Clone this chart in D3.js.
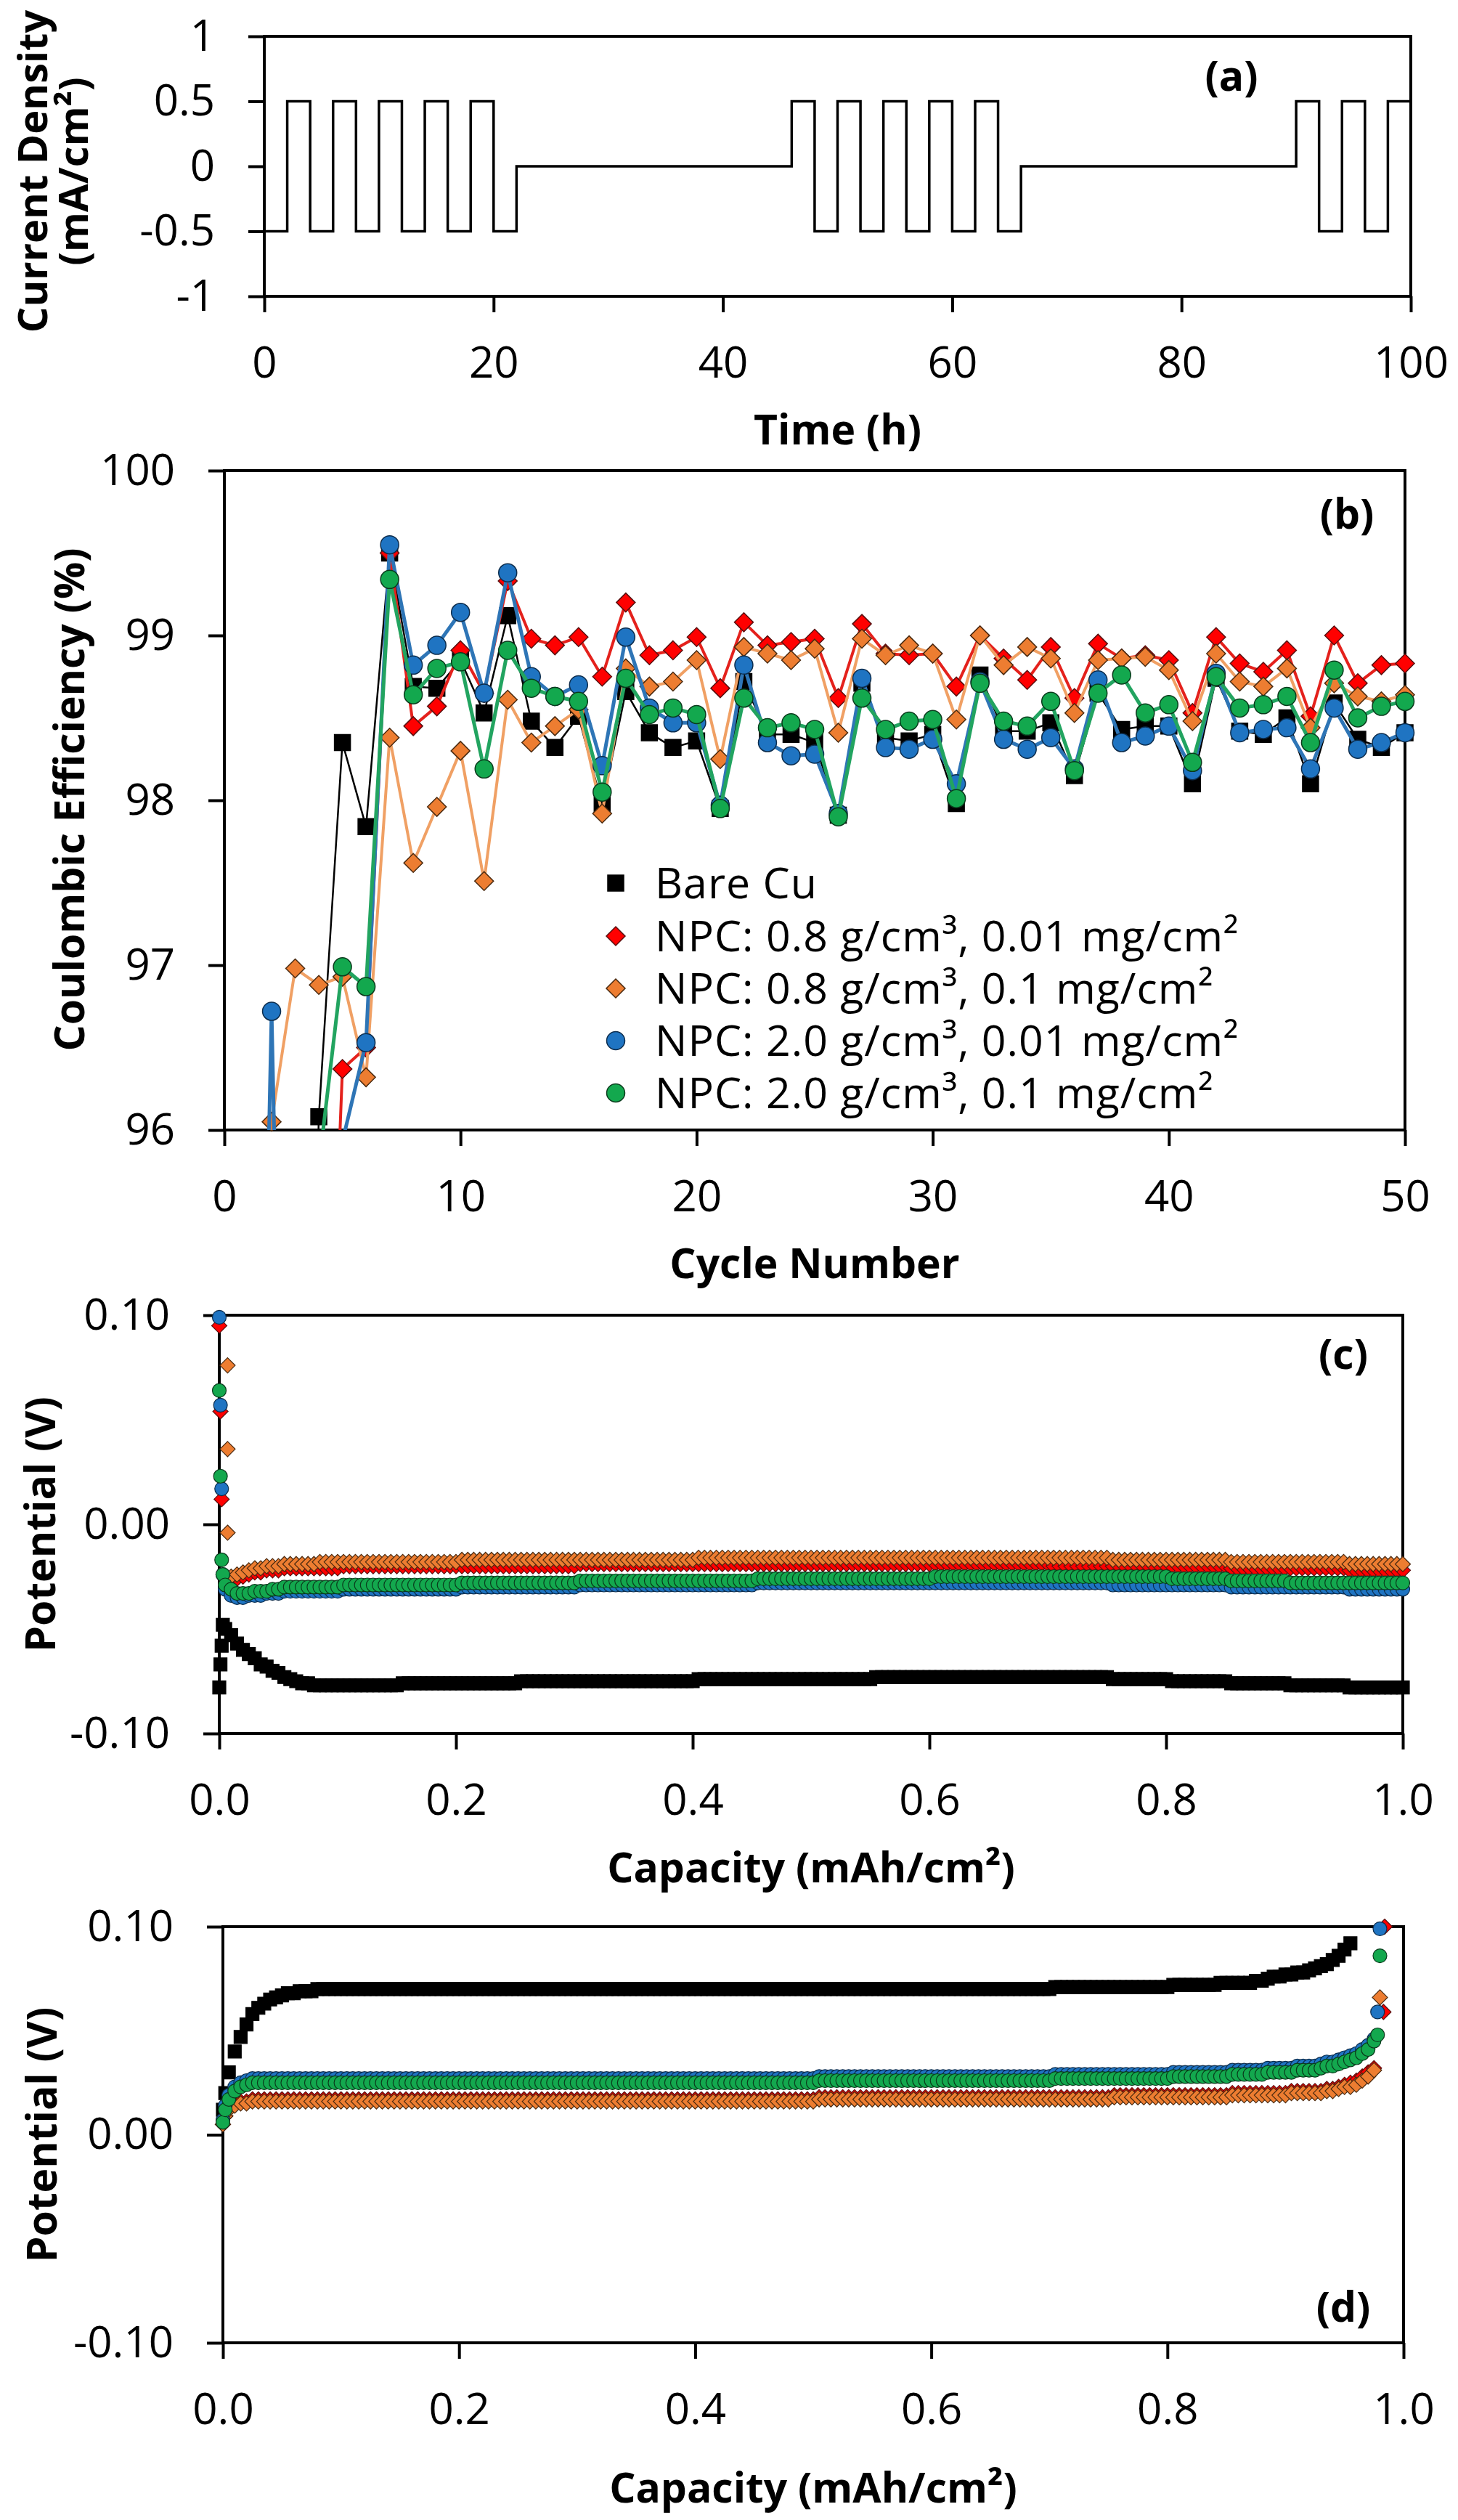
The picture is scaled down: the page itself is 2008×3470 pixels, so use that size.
<!DOCTYPE html>
<html>
<head>
<meta charset="utf-8">
<script src="https://cdn.jsdelivr.net/npm/d3@7"></script>
<style>
  body { margin: 0; background: #fff; }
  svg { display: block; }
</style>
</head>
<body>
<script>
var
  FONT = '"Open Sans", "DejaVu Sans", sans-serif',

  // (a) current profile: start time of each step (h) and the level held from it (mA/cm2)
  stepTimes = [0, 2, 4, 6, 8, 10, 12, 14, 16, 18, 20, 22,
    46, 48, 50, 52, 54, 56, 58, 60, 62, 64, 66,
    90, 92, 94, 96, 98, 100],
  stepLevels = [-0.5, 0.5, -0.5, 0.5, -0.5, 0.5, -0.5, 0.5, -0.5, 0.5, -0.5, 0,
    0.5, -0.5, 0.5, -0.5, 0.5, -0.5, 0.5, -0.5, 0.5, -0.5, 0,
    0.5, -0.5, 0.5, -0.5, 0.5, 0.5],
  timeTicks = [0, 20, 40, 60, 80, 100],
  currentTicks = [-1, -0.5, 0, 0.5, 1],

  // (b) coulombic efficiency (%) per cycle, null = not recorded
  cycles = [1, 2, 3, 4, 5, 6, 7, 8, 9, 10, 11, 12, 13, 14, 15, 16, 17, 18, 19, 20,
    21, 22, 23, 24, 25, 26, 27, 28, 29, 30, 31, 32, 33, 34, 35, 36, 37, 38, 39, 40,
    41, 42, 43, 44, 45, 46, 47, 48, 49, 50],
  ceBareCu = [null, null, 90, 96.08, 98.35, 97.84, 99.5, 98.69, 98.68, 98.85,
    98.53, 99.12, 98.48, 98.32, 98.51, 97.97, 98.66, 98.41, 98.32, 98.36,
    97.95, 98.72, 98.40, 98.40, 98.35, 97.91, 98.71, 98.38, 98.36, 98.40,
    97.98, 98.76, 98.42, 98.42, 98.47, 98.15, 98.65, 98.43, 98.45, 98.45,
    98.10, 98.74, 98.42, 98.40, 98.50, 98.10, 98.59, 98.37, 98.32, 98.41],
  ceNpc08a = [null, null, null, 92.7, 96.37, 96.5, 99.5, 98.45, 98.57, 98.91,
    98.65, 99.33, 98.98, 98.94, 98.99, 98.75, 99.20, 98.88, 98.91, 98.99,
    98.68, 99.08, 98.94, 98.96, 98.98, 98.62, 99.07, 98.89, 98.88, 98.89,
    98.69, 99.00, 98.86, 98.73, 98.93, 98.62, 98.95, 98.86, 98.88, 98.85,
    98.53, 98.99, 98.83, 98.78, 98.91, 98.51, 99.00, 98.71, 98.82, 98.83],
  ceNpc08b = [90, 96.05, 96.98, 96.88, 96.93, 96.32, 98.38, 97.62, 97.96, 98.30,
    97.51, 98.61, 98.35, 98.45, 98.55, 97.92, 98.80, 98.69, 98.72, 98.85,
    98.25, 98.93, 98.89, 98.85, 98.92, 98.41, 98.98, 98.88, 98.94, 98.89,
    98.49, 99.00, 98.82, 98.93, 98.86, 98.53, 98.85, 98.86, 98.87, 98.79,
    98.48, 98.89, 98.72, 98.69, 98.80, 98.44, 98.71, 98.63, 98.60, 98.64],
  ceNpc20a = [90, 96.72, 90, 90, 95.93, 96.53, 99.55, 98.82, 98.94, 99.14,
    98.65, 99.38, 98.75, 98.63, 98.70, 98.21, 98.99, 98.56, 98.47, 98.47,
    97.97, 98.82, 98.35, 98.27, 98.28, 97.92, 98.74, 98.32, 98.31, 98.37,
    98.10, 98.72, 98.37, 98.31, 98.38, 98.19, 98.73, 98.35, 98.39, 98.45,
    98.18, 98.77, 98.41, 98.43, 98.44, 98.19, 98.56, 98.31, 98.35, 98.41],
  ceNpc20b = [null, null, null, 95.78, 96.99, 96.87, 99.34, 98.64, 98.80, 98.84,
    98.19, 98.91, 98.68, 98.63, 98.60, 98.05, 98.74, 98.52, 98.56, 98.52,
    97.95, 98.62, 98.44, 98.47, 98.43, 97.90, 98.62, 98.43, 98.48, 98.49,
    98.01, 98.71, 98.48, 98.45, 98.60, 98.18, 98.65, 98.76, 98.53, 98.58,
    98.23, 98.75, 98.56, 98.58, 98.63, 98.35, 98.79, 98.50, 98.57, 98.60],
  cycleTicks = [0, 10, 20, 30, 40, 50],
  ceTicks = [96, 97, 98, 99, 100],

  seriesNames = ['Bare Cu',
    'NPC: 0.8 g/cm\u00b3, 0.01 mg/cm\u00b2',
    'NPC: 0.8 g/cm\u00b3, 0.1 mg/cm\u00b2',
    'NPC: 2.0 g/cm\u00b3, 0.01 mg/cm\u00b2',
    'NPC: 2.0 g/cm\u00b3, 0.1 mg/cm\u00b2'],

  // (c), (d) voltage profiles: capacity grid (mAh/cm2) shared by the regular samples
  capGrid = [0.005, 0.01, 0.015, 0.02, 0.025, 0.03, 0.035, 0.04, 0.045, 0.05,
    0.055, 0.06, 0.065, 0.07, 0.075, 0.08, 0.085, 0.09, 0.095, 0.1,
    0.105, 0.11, 0.115, 0.12, 0.125, 0.13, 0.135, 0.14, 0.145, 0.15,
    0.155, 0.16, 0.165, 0.17, 0.175, 0.18, 0.185, 0.19, 0.195, 0.2,
    0.205, 0.21, 0.215, 0.22, 0.225, 0.23, 0.235, 0.24, 0.245, 0.25,
    0.255, 0.26, 0.265, 0.27, 0.275, 0.28, 0.285, 0.29, 0.295, 0.3,
    0.305, 0.31, 0.315, 0.32, 0.325, 0.33, 0.335, 0.34, 0.345, 0.35,
    0.355, 0.36, 0.365, 0.37, 0.375, 0.38, 0.385, 0.39, 0.395, 0.4,
    0.405, 0.41, 0.415, 0.42, 0.425, 0.43, 0.435, 0.44, 0.445, 0.45,
    0.455, 0.46, 0.465, 0.47, 0.475, 0.48, 0.485, 0.49, 0.495, 0.5,
    0.505, 0.51, 0.515, 0.52, 0.525, 0.53, 0.535, 0.54, 0.545, 0.55,
    0.555, 0.56, 0.565, 0.57, 0.575, 0.58, 0.585, 0.59, 0.595, 0.6,
    0.605, 0.61, 0.615, 0.62, 0.625, 0.63, 0.635, 0.64, 0.645, 0.65,
    0.655, 0.66, 0.665, 0.67, 0.675, 0.68, 0.685, 0.69, 0.695, 0.7,
    0.705, 0.71, 0.715, 0.72, 0.725, 0.73, 0.735, 0.74, 0.745, 0.75,
    0.755, 0.76, 0.765, 0.77, 0.775, 0.78, 0.785, 0.79, 0.795, 0.8,
    0.805, 0.81, 0.815, 0.82, 0.825, 0.83, 0.835, 0.84, 0.845, 0.85,
    0.855, 0.86, 0.865, 0.87, 0.875, 0.88, 0.885, 0.89, 0.895, 0.9,
    0.905, 0.91, 0.915, 0.92, 0.925, 0.93, 0.935, 0.94, 0.945, 0.95,
    0.955, 0.96, 0.965, 0.97, 0.975, 0.98, 0.985, 0.99, 0.995, 1.0],

  // (c) plating potential (mV): first points near zero capacity as [cap, mV], then grid samples
  cHeadBareCu = [[0, -78], [0.001, -67], [0.002, -58], [0.003, -48]],
  cHeadNpc08a = [[0, 95], [0.001, 54], [0.002, 12]],
  cHeadNpc08b = [[0.007, 76], [0.007, 36], [0.007, -4]],
  cHeadNpc20a = [[0, 99], [0.001, 57], [0.002, 17], [0.003, -24]],
  cHeadNpc20b = [[0, 64], [0.001, 23], [0.002, -17], [0.003, -24]],
  cBareCu = [-50, -53, -57, -60, -62, -64, -67, -68, -70, -71,
    -73, -74, -75, -76, -76, -77, -77, -77, -77, -77,
    -77, -77, -77, -77, -77, -77, -77, -77, -77, -77,
    -76, -76, -76, -76, -76, -76, -76, -76, -76, -76,
    -76, -76, -76, -76, -76, -76, -76, -76, -76, -76,
    -75, -75, -75, -75, -75, -75, -75, -75, -75, -75,
    -75, -75, -75, -75, -75, -75, -75, -75, -75, -75,
    -75, -75, -75, -75, -75, -75, -75, -75, -75, -75,
    -74, -74, -74, -74, -74, -74, -74, -74, -74, -74,
    -74, -74, -74, -74, -74, -74, -74, -74, -74, -74,
    -74, -74, -74, -74, -74, -74, -74, -74, -74, -74,
    -73, -73, -73, -73, -73, -73, -73, -73, -73, -73,
    -73, -73, -73, -73, -73, -73, -73, -73, -73, -73,
    -73, -73, -73, -73, -73, -73, -73, -73, -73, -73,
    -73, -73, -73, -73, -73, -73, -73, -73, -73, -73,
    -74, -74, -74, -74, -74, -74, -74, -74, -74, -74,
    -75, -75, -75, -75, -75, -75, -75, -75, -75, -75,
    -76, -76, -76, -76, -76, -76, -76, -76, -76, -76,
    -77, -77, -77, -77, -77, -77, -77, -77, -77, -77,
    -78, -78, -78, -78, -78, -78, -78, -78, -78, -78],
  cNpc08a = [-26, -27, -26, -25, -24, -23, -23, -22, -22, -22,
    -21, -21, -21, -21, -21, -21, -21, -21, -21, -21,
    -20, -20, -20, -20, -20, -20, -20, -20, -20, -20,
    -20, -20, -20, -20, -20, -20, -20, -20, -20, -20,
    -20, -20, -20, -20, -20, -20, -20, -20, -20, -20,
    -20, -20, -20, -20, -20, -20, -20, -20, -20, -20,
    -19, -19, -19, -19, -19, -19, -19, -19, -19, -19,
    -19, -19, -19, -19, -19, -19, -19, -19, -19, -19,
    -19, -19, -19, -19, -19, -19, -19, -19, -19, -19,
    -19, -19, -19, -19, -19, -19, -19, -19, -19, -19,
    -19, -19, -19, -19, -19, -19, -19, -19, -19, -19,
    -19, -19, -19, -19, -19, -19, -19, -19, -19, -19,
    -19, -19, -19, -19, -19, -19, -19, -19, -19, -19,
    -19, -19, -19, -19, -19, -19, -19, -19, -19, -19,
    -20, -20, -20, -20, -20, -20, -20, -20, -20, -20,
    -20, -20, -20, -20, -20, -20, -20, -20, -20, -20,
    -20, -20, -20, -20, -20, -20, -20, -20, -20, -20,
    -21, -21, -21, -21, -21, -21, -21, -21, -21, -21,
    -21, -21, -21, -21, -21, -21, -21, -21, -21, -21,
    -22, -22, -22, -22, -22, -22, -22, -22, -22, -22],
  cNpc08b = [null, -25, -24, -23, -22, -21, -21, -20, -20, -20,
    -19, -19, -19, -19, -19, -19, -18, -18, -18, -18,
    -18, -18, -18, -18, -18, -18, -18, -18, -18, -18,
    -18, -18, -18, -18, -18, -18, -18, -18, -18, -18,
    -17, -17, -17, -17, -17, -17, -17, -17, -17, -17,
    -17, -17, -17, -17, -17, -17, -17, -17, -17, -17,
    -17, -17, -17, -17, -17, -17, -17, -17, -17, -17,
    -17, -17, -17, -17, -17, -17, -17, -17, -17, -17,
    -16, -16, -16, -16, -16, -16, -16, -16, -16, -16,
    -16, -16, -16, -16, -16, -16, -16, -16, -16, -16,
    -16, -16, -16, -16, -16, -16, -16, -16, -16, -16,
    -16, -16, -16, -16, -16, -16, -16, -16, -16, -16,
    -16, -16, -16, -16, -16, -16, -16, -16, -16, -16,
    -16, -16, -16, -16, -16, -16, -16, -16, -16, -16,
    -16, -16, -16, -16, -16, -16, -16, -16, -16, -16,
    -17, -17, -17, -17, -17, -17, -17, -17, -17, -17,
    -17, -17, -17, -17, -17, -17, -17, -17, -17, -17,
    -18, -18, -18, -18, -18, -18, -18, -18, -18, -18,
    -18, -18, -18, -18, -18, -18, -18, -18, -18, -18,
    -19, -19, -19, -19, -19, -19, -19, -19, -19, -19],
  cNpc20a = [-31, -34, -35, -35, -34, -34, -34, -33, -33, -33,
    -32, -32, -32, -32, -32, -32, -32, -32, -32, -32,
    -31, -31, -31, -31, -31, -31, -31, -31, -31, -31,
    -31, -31, -31, -31, -31, -31, -31, -31, -31, -31,
    -30, -30, -30, -30, -30, -30, -30, -30, -30, -30,
    -30, -30, -30, -30, -30, -30, -30, -30, -30, -30,
    -29, -29, -29, -29, -29, -29, -29, -29, -29, -29,
    -29, -29, -29, -29, -29, -29, -29, -29, -29, -29,
    -29, -29, -29, -29, -29, -29, -29, -29, -29, -29,
    -28, -28, -28, -28, -28, -28, -28, -28, -28, -28,
    -28, -28, -28, -28, -28, -28, -28, -28, -28, -28,
    -28, -28, -28, -28, -28, -28, -28, -28, -28, -28,
    -28, -28, -28, -28, -28, -28, -28, -28, -28, -28,
    -28, -28, -28, -28, -28, -28, -28, -28, -28, -28,
    -28, -28, -28, -28, -28, -28, -28, -28, -28, -28,
    -29, -29, -29, -29, -29, -29, -29, -29, -29, -29,
    -29, -29, -29, -29, -29, -29, -29, -29, -29, -29,
    -30, -30, -30, -30, -30, -30, -30, -30, -30, -30,
    -30, -30, -30, -30, -30, -30, -30, -30, -30, -30,
    -31, -31, -31, -31, -31, -31, -31, -31, -31, -31],
  cNpc20b = [-29, -31, -33, -33, -33, -32, -32, -32, -31, -31,
    -30, -30, -30, -30, -30, -30, -30, -30, -30, -30,
    -29, -29, -29, -29, -29, -29, -29, -29, -29, -29,
    -29, -29, -29, -29, -29, -29, -29, -29, -29, -29,
    -28, -28, -28, -28, -28, -28, -28, -28, -28, -28,
    -28, -28, -28, -28, -28, -28, -28, -28, -28, -28,
    -27, -27, -27, -27, -27, -27, -27, -27, -27, -27,
    -27, -27, -27, -27, -27, -27, -27, -27, -27, -27,
    -27, -27, -27, -27, -27, -27, -27, -27, -27, -27,
    -26, -26, -26, -26, -26, -26, -26, -26, -26, -26,
    -26, -26, -26, -26, -26, -26, -26, -26, -26, -26,
    -26, -26, -26, -26, -26, -26, -26, -26, -26, -26,
    -25, -25, -25, -25, -25, -25, -25, -25, -25, -25,
    -25, -25, -25, -25, -25, -25, -25, -25, -25, -25,
    -25, -25, -25, -25, -25, -25, -25, -25, -25, -25,
    -25, -25, -25, -25, -25, -25, -25, -25, -25, -25,
    -26, -26, -26, -26, -26, -26, -26, -26, -26, -26,
    -27, -27, -27, -27, -27, -27, -27, -27, -27, -27,
    -28, -28, -28, -28, -28, -28, -28, -28, -28, -28,
    -28, -28, -28, -28, -28, -28, -28, -28, -28, -28],

  // (d) stripping potential (mV): first points, grid samples, last points as [cap, mV]
  dHeadBareCu = [[0, 12], [0.002, 20]],
  dHeadNpc08a = [[0, 5], [0.002, 9]],
  dHeadNpc08b = [[0, 5], [0.002, 9]],
  dHeadNpc20a = [[0, 7], [0.002, 14]],
  dHeadNpc20b = [[0, 6], [0.002, 12]],
  dBareCu = [30, 40, 47, 53, 58, 61, 63, 65, 66, 67,
    68, 68, 69, 69, 69, 70, 70, 70, 70, 70,
    70, 70, 70, 70, 70, 70, 70, 70, 70, 70,
    70, 70, 70, 70, 70, 70, 70, 70, 70, 70,
    70, 70, 70, 70, 70, 70, 70, 70, 70, 70,
    70, 70, 70, 70, 70, 70, 70, 70, 70, 70,
    70, 70, 70, 70, 70, 70, 70, 70, 70, 70,
    70, 70, 70, 70, 70, 70, 70, 70, 70, 70,
    70, 70, 70, 70, 70, 70, 70, 70, 70, 70,
    70, 70, 70, 70, 70, 70, 70, 70, 70, 70,
    70, 70, 70, 70, 70, 70, 70, 70, 70, 70,
    70, 70, 70, 70, 70, 70, 70, 70, 70, 70,
    70, 70, 70, 70, 70, 70, 70, 70, 70, 70,
    70, 70, 70, 70, 70, 70, 70, 70, 70, 70,
    71, 71, 71, 71, 71, 71, 71, 71, 71, 71,
    71, 71, 71, 71, 71, 71, 71, 71, 71, 71,
    72, 72, 72, 72, 72, 72, 72, 72, 73, 73,
    73, 73, 73, 73, 74, 74, 75, 76, 76, 77,
    77, 78, 78, 79, 80, 81, 82, 84, 86, 89,
    92],
  dNpc08a = [13, 15, 16, 16, 17, 17, 17, 17, 17, 17,
    17, 17, 17, 17, 17, 17, 17, 17, 17, 17,
    17, 17, 17, 17, 17, 17, 17, 17, 17, 17,
    17, 17, 17, 17, 17, 17, 17, 17, 17, 17,
    17, 17, 17, 17, 17, 17, 17, 17, 17, 17,
    17, 17, 17, 17, 17, 17, 17, 17, 17, 17,
    17, 17, 17, 17, 17, 17, 17, 17, 17, 17,
    17, 17, 17, 17, 17, 17, 17, 17, 17, 17,
    17, 17, 17, 17, 17, 17, 17, 17, 17, 17,
    17, 17, 17, 17, 17, 17, 17, 17, 17, 17,
    18, 18, 18, 18, 18, 18, 18, 18, 18, 18,
    18, 18, 18, 18, 18, 18, 18, 18, 18, 18,
    18, 18, 18, 18, 18, 18, 18, 18, 18, 18,
    18, 18, 18, 18, 18, 18, 18, 18, 18, 18,
    18, 18, 18, 18, 18, 18, 18, 18, 18, 18,
    19, 19, 19, 19, 19, 19, 19, 19, 19, 19,
    19, 19, 19, 19, 19, 19, 19, 19, 19, 19,
    20, 20, 20, 20, 20, 20, 20, 20, 20, 20,
    21, 21, 21, 21, 21, 21, 22, 22, 23, 24,
    25, 26, 28, 30, 32],
  dNpc08b = [12, 14, 15, 15, 16, 16, 16, 16, 16, 16,
    16, 16, 16, 16, 16, 16, 16, 16, 16, 16,
    16, 16, 16, 16, 16, 16, 16, 16, 16, 16,
    16, 16, 16, 16, 16, 16, 16, 16, 16, 16,
    16, 16, 16, 16, 16, 16, 16, 16, 16, 16,
    16, 16, 16, 16, 16, 16, 16, 16, 16, 16,
    16, 16, 16, 16, 16, 16, 16, 16, 16, 16,
    16, 16, 16, 16, 16, 16, 16, 16, 16, 16,
    16, 16, 16, 16, 16, 16, 16, 16, 16, 16,
    16, 16, 16, 16, 16, 16, 16, 16, 16, 16,
    17, 17, 17, 17, 17, 17, 17, 17, 17, 17,
    17, 17, 17, 17, 17, 17, 17, 17, 17, 17,
    17, 17, 17, 17, 17, 17, 17, 17, 17, 17,
    17, 17, 17, 17, 17, 17, 17, 17, 17, 17,
    17, 17, 17, 17, 17, 17, 17, 17, 17, 17,
    18, 18, 18, 18, 18, 18, 18, 18, 18, 18,
    18, 18, 18, 18, 18, 18, 18, 18, 18, 18,
    19, 19, 19, 19, 19, 19, 19, 19, 19, 19,
    20, 20, 20, 20, 20, 20, 21, 21, 22, 23,
    23, 24, 26, 28, 31],
  dNpc20a = [19, 23, 25, 26, 27, 27, 27, 27, 27, 27,
    27, 27, 27, 27, 27, 27, 27, 27, 27, 27,
    27, 27, 27, 27, 27, 27, 27, 27, 27, 27,
    27, 27, 27, 27, 27, 27, 27, 27, 27, 27,
    27, 27, 27, 27, 27, 27, 27, 27, 27, 27,
    27, 27, 27, 27, 27, 27, 27, 27, 27, 27,
    27, 27, 27, 27, 27, 27, 27, 27, 27, 27,
    27, 27, 27, 27, 27, 27, 27, 27, 27, 27,
    27, 27, 27, 27, 27, 27, 27, 27, 27, 27,
    27, 27, 27, 27, 27, 27, 27, 27, 27, 27,
    28, 28, 28, 28, 28, 28, 28, 28, 28, 28,
    28, 28, 28, 28, 28, 28, 28, 28, 28, 28,
    28, 28, 28, 28, 28, 28, 28, 28, 28, 28,
    28, 28, 28, 28, 28, 28, 28, 28, 28, 28,
    29, 29, 29, 29, 29, 29, 29, 29, 29, 29,
    29, 29, 29, 29, 29, 29, 29, 29, 29, 29,
    30, 30, 30, 30, 30, 30, 30, 30, 30, 30,
    31, 31, 31, 31, 31, 31, 32, 32, 32, 32,
    32, 33, 33, 33, 33, 34, 35, 35, 36, 37,
    38, 39, 41, 43, 46],
  dNpc20b = [17, 21, 23, 24, 25, 25, 25, 25, 25, 25,
    25, 25, 25, 25, 25, 25, 25, 25, 25, 25,
    25, 25, 25, 25, 25, 25, 25, 25, 25, 25,
    25, 25, 25, 25, 25, 25, 25, 25, 25, 25,
    25, 25, 25, 25, 25, 25, 25, 25, 25, 25,
    25, 25, 25, 25, 25, 25, 25, 25, 25, 25,
    25, 25, 25, 25, 25, 25, 25, 25, 25, 25,
    25, 25, 25, 25, 25, 25, 25, 25, 25, 25,
    25, 25, 25, 25, 25, 25, 25, 25, 25, 25,
    25, 25, 25, 25, 25, 25, 25, 25, 25, 25,
    26, 26, 26, 26, 26, 26, 26, 26, 26, 26,
    26, 26, 26, 26, 26, 26, 26, 26, 26, 26,
    26, 26, 26, 26, 26, 26, 26, 26, 26, 26,
    26, 26, 26, 26, 26, 26, 26, 26, 26, 26,
    27, 27, 27, 27, 27, 27, 27, 27, 27, 27,
    27, 27, 27, 27, 27, 27, 27, 27, 27, 27,
    28, 28, 28, 28, 28, 28, 28, 28, 28, 28,
    29, 29, 29, 29, 29, 29, 30, 30, 30, 30,
    30, 31, 31, 31, 31, 32, 33, 33, 34, 35,
    36, 37, 39, 41, 45],
  dTailBareCu = [],
  dTailNpc08a = [[0.983, 59], [0.984, 100]],
  dTailNpc08b = [[0.98, 66]],
  dTailNpc20a = [[0.978, 59], [0.98, 99]],
  dTailNpc20b = [[0.978, 48], [0.98, 86]],
  capTicks = [0, 0.2, 0.4, 0.6, 0.8, 1.0],
  potTicks = [-100, 0, 100],

  // layout (px) and look, kept apart from the data
  boxA = { left: 364, right: 1943, top: 50, bottom: 408 },
  boxB = { left: 309, right: 1935, top: 648, bottom: 1556 },
  boxC = { left: 302, right: 1932, top: 1811, bottom: 2387 },
  boxD = { left: 307, right: 1933, top: 2653, bottom: 3226 },

  looks = [
    { shape: 'square', fill: '#000000', edge: '#000000', line: '#000000', width: 2.5 },
    { shape: 'diamond', fill: '#FF0000', edge: '#5a1010', line: '#E4211C', width: 4 },
    { shape: 'diamond', fill: '#ED7D31', edge: '#4a2a10', line: '#F0A064', width: 4 },
    { shape: 'circle', fill: '#1F74C2', edge: '#0c2c4c', line: '#2E75B6', width: 5 },
    { shape: 'circle', fill: '#13A84E', edge: '#0a3a1c', line: '#22A460', width: 5 }
  ],

  markerPath = function markerPath(shape, r) {
    var p;
    if (shape === 'circle') {
      return d3.symbol(d3.symbolCircle, Math.PI * r * r)();
    }
    if (shape === 'square') {
      return d3.symbol(d3.symbolSquare, 4 * r * r)();
    }
    p = d3.path();
    p.moveTo(0, -r);
    p.lineTo(r, 0);
    p.lineTo(0, r);
    p.lineTo(-r, 0);
    p.closePath();
    return p.toString();
  },

  markerSize = function markerSize(shape, big) {
    if (shape === 'circle') return big ? 12.5 : 9.5;
    if (shape === 'diamond') return big ? 13 : 10.5;
    return big ? 11 : 9;
  },

  addText = function addText(svg, str, x, y, opts) {
    var t = svg.append('text')
      .attr('x', x).attr('y', y)
      .attr('font-family', FONT)
      .attr('font-size', opts.size || 57)
      .attr('font-weight', opts.bold ? 700 : 400)
      .attr('text-anchor', opts.anchor || 'middle')
      .attr('fill', '#000')
      .text(str);
    if (opts.spacing) {
      t.attr('letter-spacing', opts.spacing);
    }
    if (opts.rotate) {
      t.attr('transform', 'rotate(-90,' + x + ',' + y + ')');
    }
    return t;
  },

  drawAxes = function drawAxes(svg, box, x, y, xTicks, yTicks, xFmt, yFmt) {
    var
      xa = d3.axisBottom(x).tickValues(xTicks).tickFormat(xFmt)
        .tickSize(22).tickSizeOuter(0).tickPadding(47),
      ya = d3.axisLeft(y).tickValues(yTicks).tickFormat(yFmt)
        .tickSize(22).tickSizeOuter(0).tickPadding(46),
      gx = svg.append('g').attr('transform', 'translate(0,' + box.bottom + ')').call(xa),
      gy = svg.append('g').attr('transform', 'translate(' + box.left + ',0)').call(ya);

    [gx, gy].forEach(function (a) {
      a.select('.domain').remove();
      a.selectAll('line').attr('stroke', '#000').attr('stroke-width', 4);
      a.selectAll('text')
        .attr('font-family', FONT)
        .attr('font-size', 60)
        .attr('fill', '#000');
    });

    svg.append('rect')
      .attr('x', box.left).attr('y', box.top)
      .attr('width', box.right - box.left)
      .attr('height', box.bottom - box.top)
      .attr('fill', 'none')
      .attr('stroke', '#000')
      .attr('stroke-width', 4);
  },

  drawPanelA = function drawPanelA(svg) {
    var
      x = d3.scaleLinear().domain([0, 100]).range([boxA.left, boxA.right]),
      y = d3.scaleLinear().domain([-1, 1]).range([boxA.bottom, boxA.top]),
      pts = stepTimes.map(function (t, i) { return [t, stepLevels[i]]; });

    drawAxes(svg, boxA, x, y, timeTicks, currentTicks, String, String);

    svg.append('path')
      .datum(pts)
      .attr('fill', 'none')
      .attr('stroke', '#000')
      .attr('stroke-width', 3.5)
      .attr('d', d3.line().curve(d3.curveStepAfter)
        .x(function (d) { return x(d[0]); })
        .y(function (d) { return y(d[1]); }));

    addText(svg, 'Time (h)', (boxA.left + boxA.right) / 2, 612, { bold: true });
    addText(svg, 'Current Density', 65, 236, { bold: true, rotate: true, size: 56 });
    addText(svg, '(mA/cm\u00b2)', 121, 236, { bold: true, rotate: true, size: 56 });
    addText(svg, '(a)', 1696, 125, { bold: true });
  },

  drawPanelB = function drawPanelB(svg) {
    var
      x = d3.scaleLinear().domain([0, 50]).range([boxB.left, boxB.right]),
      y = d3.scaleLinear().domain([96, 100]).range([boxB.bottom, boxB.top]),
      series = [ceBareCu, ceNpc08a, ceNpc08b, ceNpc20a, ceNpc20b],
      line = d3.line()
        .x(function (d) { return x(d[0]); })
        .y(function (d) { return y(d[1]); }),
      legendY = [1216, 1289, 1361, 1433, 1505];

    drawAxes(svg, boxB, x, y, cycleTicks, ceTicks, String, String);

    svg.append('clipPath').attr('id', 'clipB')
      .append('rect')
      .attr('x', boxB.left).attr('y', boxB.top)
      .attr('width', boxB.right - boxB.left)
      .attr('height', boxB.bottom - boxB.top);

    series.forEach(function (vals, k) {
      var
        look = looks[k],
        pts = cycles.map(function (c, i) { return [c, vals[i]]; })
          .filter(function (p) { return p[1] !== null; }),
        g = svg.append('g');

      g.append('path')
        .datum(pts)
        .attr('clip-path', 'url(#clipB)')
        .attr('fill', 'none')
        .attr('stroke', look.line)
        .attr('stroke-width', look.width)
        .attr('stroke-linejoin', 'round')
        .attr('d', line);

      g.selectAll('path.mk')
        .data(pts.filter(function (p) { return p[1] >= 96 && p[1] <= 100; }))
        .enter().append('path')
        .attr('class', 'mk')
        .attr('transform', function (d) { return 'translate(' + x(d[0]) + ',' + y(d[1]) + ')'; })
        .attr('d', markerPath(look.shape, markerSize(look.shape, true)))
        .attr('fill', look.fill)
        .attr('stroke', look.edge)
        .attr('stroke-width', 1.5);
    });

    seriesNames.forEach(function (name, k) {
      var look = looks[k];
      svg.append('path')
        .attr('transform', 'translate(848,' + legendY[k] + ')')
        .attr('d', markerPath(look.shape, markerSize(look.shape, true)))
        .attr('fill', look.fill)
        .attr('stroke', look.edge)
        .attr('stroke-width', 1.5);
      addText(svg, name, 902, legendY[k] + 21, { size: 59, anchor: 'start', spacing: 1 });
    });

    addText(svg, 'Cycle Number', (boxB.left + boxB.right) / 2, 1760, { bold: true });
    addText(svg, 'Coulombic Efficiency (%)', 116, 1101, { bold: true, rotate: true });
    addText(svg, '(b)', 1855, 728, { bold: true });
  },

  buildCurve = function buildCurve(head, grid, tail) {
    var pts = head.slice();
    grid.forEach(function (v, i) {
      if (v !== null) pts.push([capGrid[i], v]);
    });
    return pts.concat(tail);
  },

  drawProfile = function drawProfile(svg, box, curves, label, labelY, titleY, yLabelX) {
    var
      x = d3.scaleLinear().domain([0, 1]).range([box.left, box.right]),
      y = d3.scaleLinear().domain([-100, 100]).range([box.bottom, box.top]);

    drawAxes(svg, box, x, y, capTicks, potTicks,
      function (d) { return d.toFixed(1); },
      function (d) { return (d / 1000).toFixed(2); });

    curves.forEach(function (pts, k) {
      var look = looks[k];
      svg.append('g').selectAll('path')
        .data(pts)
        .enter().append('path')
        .attr('transform', function (d) { return 'translate(' + x(d[0]) + ',' + y(d[1]) + ')'; })
        .attr('d', markerPath(look.shape, markerSize(look.shape, false)))
        .attr('fill', look.fill)
        .attr('stroke', look.edge)
        .attr('stroke-width', 1.2);
    });

    addText(svg, 'Capacity (mAh/cm\u00b2)', (box.left + box.right) / 2, titleY, { bold: true });
    addText(svg, 'Potential (V)', yLabelX, (box.top + box.bottom) / 2, { bold: true, rotate: true });
    addText(svg, label, 1850, labelY, { bold: true });
  },

  init = function init() {
    var svg = d3.select('body').append('svg')
      .attr('width', 2008)
      .attr('height', 3470);

    svg.append('rect').attr('width', '100%').attr('height', '100%').attr('fill', '#fff');

    drawPanelA(svg);
    drawPanelB(svg);

    drawProfile(svg, boxC, [
      buildCurve(cHeadBareCu, cBareCu, []),
      buildCurve(cHeadNpc08a, cNpc08a, []),
      buildCurve(cHeadNpc08b, cNpc08b, []),
      buildCurve(cHeadNpc20a, cNpc20a, []),
      buildCurve(cHeadNpc20b, cNpc20b, [])
    ], '(c)', 1885, 2592, 76);

    drawProfile(svg, boxD, [
      buildCurve(dHeadBareCu, dBareCu, dTailBareCu),
      buildCurve(dHeadNpc08a, dNpc08a, dTailNpc08a),
      buildCurve(dHeadNpc08b, dNpc08b, dTailNpc08b),
      buildCurve(dHeadNpc20a, dNpc20a, dTailNpc20a),
      buildCurve(dHeadNpc20b, dNpc20b, dTailNpc20b)
    ], '(d)', 3197, 3446, 78);
  };

init();
</script>
</body>
</html>
